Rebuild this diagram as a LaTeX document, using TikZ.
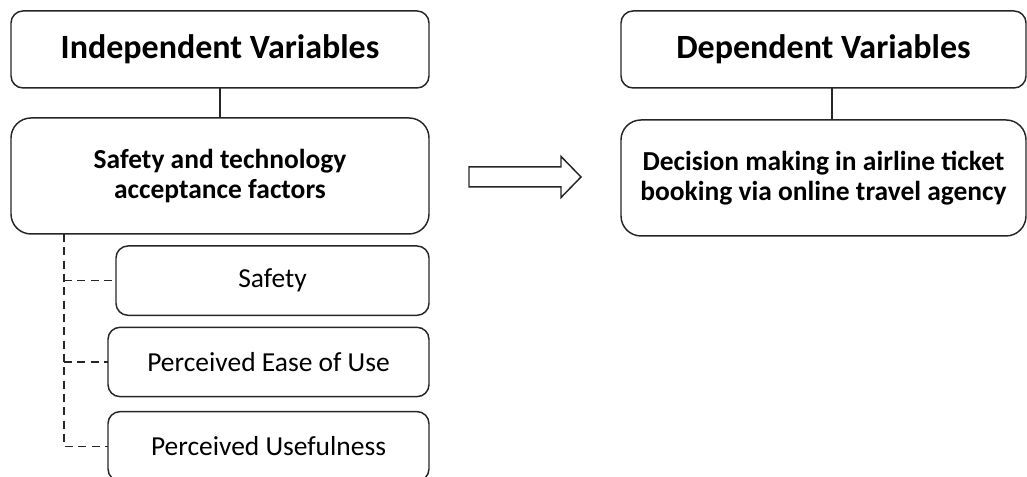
\documentclass[tikz,border=0pt]{standalone}
\usepackage{fontspec}
\setmainfont{Carlito}
\usepackage{tikz}
\usetikzlibrary{positioning,calc}

\begin{document}
\begin{tikzpicture}[
    headbox/.style={rectangle, rounded corners=9pt, draw=black!85, line width=1.1pt, minimum width=313.5pt, minimum height=57.75pt, align=center, font=\fontsize{25.5}{30}\selectfont\bfseries, outer sep=0pt},
    factorbox/.style={rectangle, rounded corners=15pt, draw=black!85, line width=1.1pt, minimum width=313.5pt, minimum height=87pt, align=center, font=\fontsize{20.6}{22.5}\selectfont\bfseries, outer sep=0pt},
    itembox/.style={rectangle, rounded corners=9pt, draw=black!85, line width=1.1pt, minimum width=240.75pt, minimum height=52pt, align=center, font=\fontsize{20.6}{24}\selectfont, outer sep=0pt},
    link/.style={draw=black!85, line width=1.1pt},
    dashline/.style={draw=black!85, line width=1pt, dash pattern=on 6pt off 4pt},
    blockarrow/.style={draw=black!85, line width=1.1pt, line join=miter}
]
\useasboundingbox (0,0) rectangle (770.25pt,-357.75pt);

% Independent side
\node[headbox] (indep) at (165pt,-37.1pt) {Independent Variables};
\node[factorbox, below=22.5pt of indep] (factor) {Safety and technology\\acceptance factors};

% Sub factors
\node[itembox, minimum width=234.75pt, below left=9pt and 0pt of factor.south east] (safety) {Safety};
\node[itembox, below left=9pt and 0pt of safety.south east] (ease) {Perceived Ease of Use};
\node[itembox, below left=11.25pt and 0pt of ease.south east] (useful) {Perceived Usefulness};

% Dependent side
\node[headbox, minimum width=303.75pt, right=144pt of indep] (dep) {Dependent Variables};
\node[factorbox, minimum width=303.75pt, below=24pt of dep] (decision) {Decision making in airline ticket\\booking via online travel agency};

% Block arrow
\coordinate (mid) at ($(factor.east)!0.5!(decision.west)$);
\draw[blockarrow] ([shift={(-42pt,7.5pt)}]mid) -- ++(69pt,0) -- ++(0,7.9pt) -- ([xshift=42pt]mid)
    -- ([shift={(27pt,-15.4pt)}]mid) -- ++(0,7.9pt) -- ([shift={(-42pt,-7.5pt)}]mid) -- cycle;

% Links
\draw[link] (indep) -- (factor);
\coordinate (depstem) at ([xshift=6.3pt]dep.south);
\draw[link] (depstem) -- (depstem |- decision.north);
\coordinate (trunk) at ([xshift=39.75pt]factor.south west);
\draw[dashline] (trunk) |- (useful.west);
\draw[dashline] (trunk |- safety.west) -- (safety.west);
\draw[dashline] (trunk |- ease.west) -- (ease.west);

\end{tikzpicture}
\end{document}
